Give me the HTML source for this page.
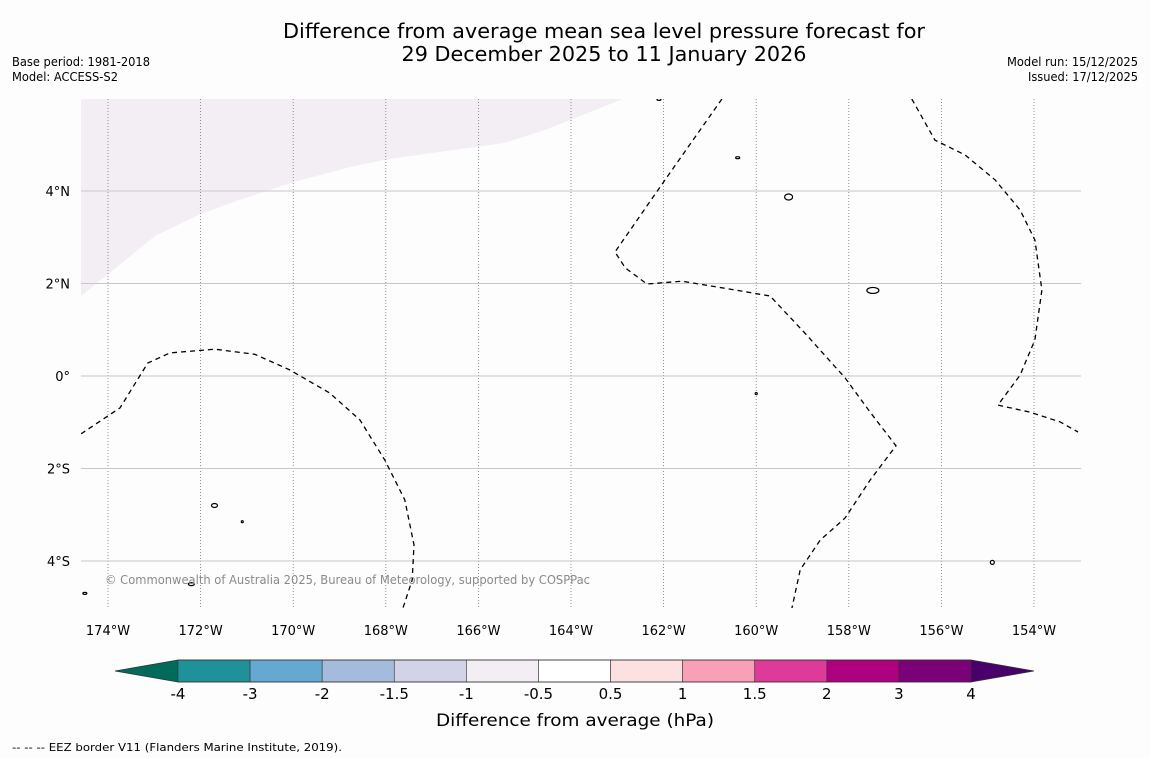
<!DOCTYPE html>
<html><head><meta charset="utf-8"><style>
html,body{margin:0;padding:0;background:#fdfdfd;}
svg{display:block;font-family:"DejaVu Sans","Liberation Sans",sans-serif;}
</style></head><body>
<svg id="chart" width="1150" height="758" viewBox="0 0 1150 758" xmlns="http://www.w3.org/2000/svg">
<rect width="1150" height="758" fill="#fdfdfd"/>
<text x="604" y="38" text-anchor="middle" font-size="20" textLength="642" lengthAdjust="spacingAndGlyphs">Difference from average mean sea level pressure forecast for</text>
<text x="604" y="61" text-anchor="middle" font-size="20" textLength="405" lengthAdjust="spacingAndGlyphs">29 December 2025 to 11 January 2026</text>
<text x="12" y="66" font-size="12" textLength="138" lengthAdjust="spacingAndGlyphs">Base period: 1981-2018</text>
<text x="12" y="81" font-size="12" textLength="106" lengthAdjust="spacingAndGlyphs">Model: ACCESS-S2</text>
<text x="1138" y="66" font-size="12" text-anchor="end" textLength="131" lengthAdjust="spacingAndGlyphs">Model run: 15/12/2025</text>
<text x="1138" y="81" font-size="12" text-anchor="end" textLength="110" lengthAdjust="spacingAndGlyphs">Issued: 17/12/2025</text>
<defs><clipPath id="mapclip"><rect x="81" y="99" width="1000" height="509"/></clipPath></defs>
<g id="map" clip-path="url(#mapclip)"></g>
<g id="axes"></g>
<text x="105" y="584" font-size="12" fill="#8a8a8a" textLength="485" lengthAdjust="spacingAndGlyphs">© Commonwealth of Australia 2025, Bureau of Meteorology, supported by COSPPac</text>
<g id="cbar"></g>
<text x="575" y="726" text-anchor="middle" font-size="17" textLength="278" lengthAdjust="spacingAndGlyphs">Difference from average (hPa)</text>
<text x="12" y="751" font-size="11" textLength="330" lengthAdjust="spacingAndGlyphs">--  --  -- EEZ border V11 (Flanders Marine Institute, 2019).</text>
</svg>
<script>
const lonTicks=[-174,-172,-170,-168,-166,-164,-162,-160,-158,-156,-154];
const latTicks=[4,2,0,-2,-4];
const latLabels=["4°N","2°N","0°","2°S","4°S"];
const levels=["-4","-3","-2","-1.5","-1","-0.5","0.5","1","1.5","2","3","4"];
const levelColors=["#1f9199","#65a9d0","#a5bbdc","#d3d3e8","#f2eef4","#ffffff","#fde0e0","#f9a0b6","#de3a9a","#ad0180","#7a0177"];
const extendColors=["#006b5a","#49006a"];
const shadedRegion=[[-174.6,6.1],[-174.58,1.73],[-172.98,3.03],[-172.01,3.5],[-171.15,3.81],[-170.0,4.19],[-168.77,4.52],[-167.95,4.69],[-165.43,5.04],[-164.56,5.32],[-162.88,5.99],[-162.8,6.1]];
const eezWest=[[-174.58,-1.25],[-173.74,-0.69],[-173.14,0.28],[-172.66,0.5],[-171.69,0.58],[-170.83,0.47],[-170.07,0.13],[-169.21,-0.37],[-168.56,-0.95],[-168.02,-1.82],[-167.59,-2.68],[-167.39,-3.65],[-167.43,-4.41],[-167.63,-5.02]];
const eezCentral=[[-160.74,5.99],[-161.97,4.24],[-163.05,2.68],[-162.83,2.34],[-162.36,1.99],[-161.6,2.05],[-160.57,1.88],[-159.7,1.73],[-158.95,0.93],[-158.08,-0.04],[-157.54,-0.78],[-156.98,-1.51],[-157.54,-2.25],[-158.08,-3.07],[-158.62,-3.55],[-159.05,-4.19],[-159.23,-5.02]];
const eezEast=[[-156.64,5.99],[-156.14,5.1],[-155.49,4.78],[-154.84,4.24],[-154.3,3.59],[-153.98,2.94],[-153.83,1.86],[-153.98,0.78],[-154.3,0.02],[-154.78,-0.63],[-154.09,-0.78],[-153.44,-0.99],[-153.05,-1.21]];
const islands=[[-159.3,3.87,4,3],[-157.48,1.85,6,3],[-171.7,-2.8,3,2],[-162.1,5.98,2,1],[-160.4,4.72,2,1],[-172.2,-4.5,3,1.5],[-154.9,-4.03,2,2],[-174.5,-4.7,2,1],[-171.1,-3.15,1,1],[-160.0,-0.38,1,1]];

const NS="http://www.w3.org/2000/svg";
const X=lon=>108+(lon+174)*46.3;
const Y=lat=>191-(lat-4)*46.25;
function mk(tag,attrs,parent){const e=document.createElementNS(NS,tag);for(const k in attrs)e.setAttribute(k,attrs[k]);parent.appendChild(e);return e;}
const map=document.getElementById('map'),axes=document.getElementById('axes'),cbar=document.getElementById('cbar');
const pts=a=>a.map(p=>X(p[0]).toFixed(1)+','+Y(p[1]).toFixed(1)).join(' ');

const sh=mk('polygon',{points:pts(shadedRegion),fill:'#f2eef4'},map);



lonTicks.forEach(l=>{
  const ln=mk('line',{x1:X(l),x2:X(l),y1:99,y2:608,stroke:'#777','stroke-width':0.8,'stroke-dasharray':'1,2'},map);
  
  
  const t=mk('text',{x:X(l),y:635,'text-anchor':'middle','font-size':13},axes);
  t.textContent=Math.abs(l)+'°W';
  
  
});
latTicks.forEach((l,i)=>{
  const ln=mk('line',{x1:81,x2:1081,y1:Y(l),y2:Y(l),stroke:'#c8c8c8','stroke-width':1},map);
  
  
  const t=mk('text',{x:70,y:Y(l)+5,'text-anchor':'end','font-size':13},axes);
  t.textContent=latLabels[i];
  
  
});
[eezWest,eezCentral,eezEast].forEach(a=>{
  const p=mk('polyline',{points:pts(a),fill:'none',stroke:'#000','stroke-width':1.3,'stroke-dasharray':'5,4'},map);
  
  
});
islands.forEach(d=>{
  const e=mk('ellipse',{cx:X(d[0]),cy:Y(d[1]),rx:d[2],ry:d[3],fill:'#fff',stroke:'#000','stroke-width':1.2},map);
  
  
});

const cx0=178,cx1=971,cy=660,ch=22,n=levelColors.length,w=(cx1-cx0)/n;
const eL=mk('polygon',{points:`${cx0},${cy} ${cx0},${cy+ch} 115,${cy+ch/2}`,fill:extendColors[0]},cbar);


const eR=mk('polygon',{points:`${cx1},${cy} ${cx1},${cy+ch} 1034,${cy+ch/2}`,fill:extendColors[1]},cbar);


levelColors.forEach((c,i)=>{
  const r=mk('rect',{x:cx0+i*w,y:cy,width:w,height:ch,fill:c,stroke:'#333','stroke-width':0.6},cbar);
  
  
});
mk('polygon',{points:`115,${cy+ch/2} ${cx0},${cy} ${cx1},${cy} 1034,${cy+ch/2} ${cx1},${cy+ch} ${cx0},${cy+ch}`,fill:'none',stroke:'#333','stroke-width':0.8},cbar);
levels.forEach((l,i)=>{
  const t=mk('text',{x:cx0+i*w,y:699,'text-anchor':'middle','font-size':15},cbar);
  t.textContent=l;
  
  
});
</script>
</body></html>
